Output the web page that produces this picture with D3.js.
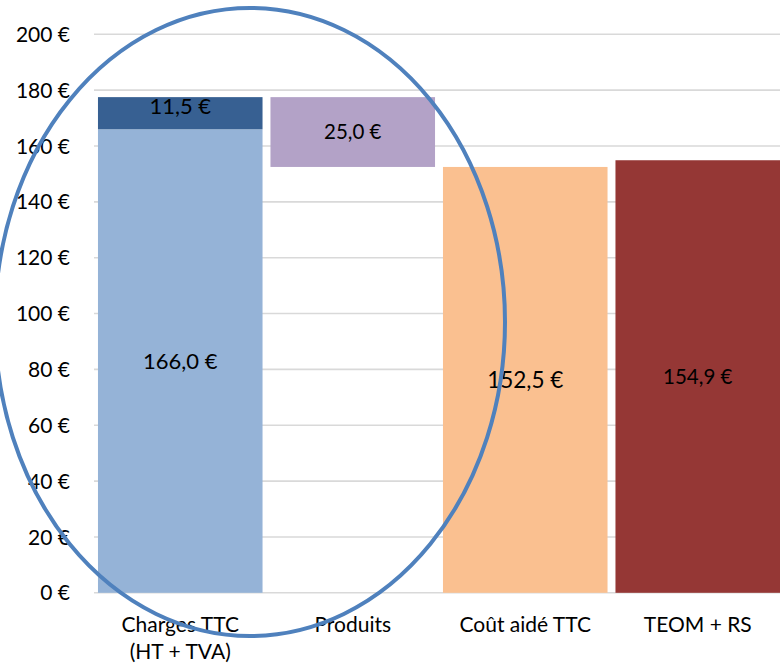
<!DOCTYPE html>
<html>
<head>
<meta charset="utf-8">
<script src="https://cdn.jsdelivr.net/npm/d3@7"></script>
<style>
  html, body { margin: 0; padding: 0; background: #fff; }
  svg { display: block; }
  text { font-family: Lato, "Open Sans", sans-serif; fill: #000; }
</style>
</head>
<body>
<svg id="chart" width="780" height="668"></svg>
<script>
// ---- data ----
const categories = ["Charges TTC\n(HT + TVA)", "Produits", "Coût aidé TTC", "TEOM + RS"];
const segCategory = ["Charges TTC\n(HT + TVA)", "Charges TTC\n(HT + TVA)", "Produits", "Coût aidé TTC", "TEOM + RS"];
const segStart = [0, 166.0, 152.5, 0, 0];
const segValue = [166.0, 11.5, 25.0, 152.5, 154.9];
const yTicks = [0, 20, 40, 60, 80, 100, 120, 140, 160, 180, 200];

// ---- styles ----
const segColor = ["#95B3D7", "#376092", "#B3A2C7", "#FAC090", "#953735"];
const segFont = [22, 22, 20.5, 22.5, 20.5];

const svg = d3.select("#chart");
const x = d3.scaleBand().domain(categories).range([94, 784]).paddingInner(0.046).paddingOuter(0.023);
const y = d3.scaleLinear().domain([0, 200]).range([592.8, 34.3]);

// gridlines
svg.append("g").selectAll("line").data(yTicks).join("line")
  .attr("x1", 94).attr("x2", 780)
  .attr("y1", d => y(d)).attr("y2", d => y(d))
  .attr("stroke", "#D9D9D9").attr("stroke-width", 1.6);

// y tick labels
const fmtTick = d => d + " €";
svg.append("g").selectAll("text").data(yTicks).join("text")
  .attr("x", 70).attr("y", d => y(d)).attr("dy", "0.36em")
  .attr("text-anchor", "end").style("font-size", "21px")
  .text(fmtTick);

// bars
const segs = segValue.map((v, i) => ({ cat: segCategory[i], start: segStart[i], v, i }));
svg.append("g").selectAll("rect").data(segs).join("rect")
  .attr("x", d => x(d.cat)).attr("width", x.bandwidth())
  .attr("y", d => y(d.start + d.v))
  .attr("height", d => y(d.start) - y(d.start + d.v))
  .attr("fill", d => segColor[d.i]);

// value labels
const fmtVal = d => d3.format(".1f")(d).replace(".", ",") + " €";
svg.append("g").selectAll("text").data(segs).join("text")
  .attr("x", d => x(d.cat) + x.bandwidth() / 2)
  .attr("y", d => {
    const top = y(d.start + d.v), bot = y(d.start);
    return (bot - top) < 40 ? top + 9 : (top + bot) / 2;
  })
  .attr("dy", "0.36em").attr("text-anchor", "middle")
  .style("font-size", d => segFont[d.i] + "px")
  .text(d => fmtVal(d.v));

// category labels
const catG = svg.append("g").selectAll("text").data(categories).join("text")
  .attr("x", d => x(d) + x.bandwidth() / 2)
  .attr("y", 632)
  .attr("text-anchor", "middle").style("font-size", "21px");
catG.selectAll("tspan").data(d => d.split("\n")).join("tspan")
  .attr("x", function() { return d3.select(this.parentNode).attr("x"); })
  .attr("dy", (d, i) => i === 0 ? 0 : 27)
  .text(d => d);

// annotation ellipse
svg.append("ellipse")
  .attr("cx", 250).attr("cy", 322).attr("rx", 255).attr("ry", 314)
  .attr("fill", "none").attr("stroke", "#4F81BD").attr("stroke-width", 4);
</script>
</body>
</html>
